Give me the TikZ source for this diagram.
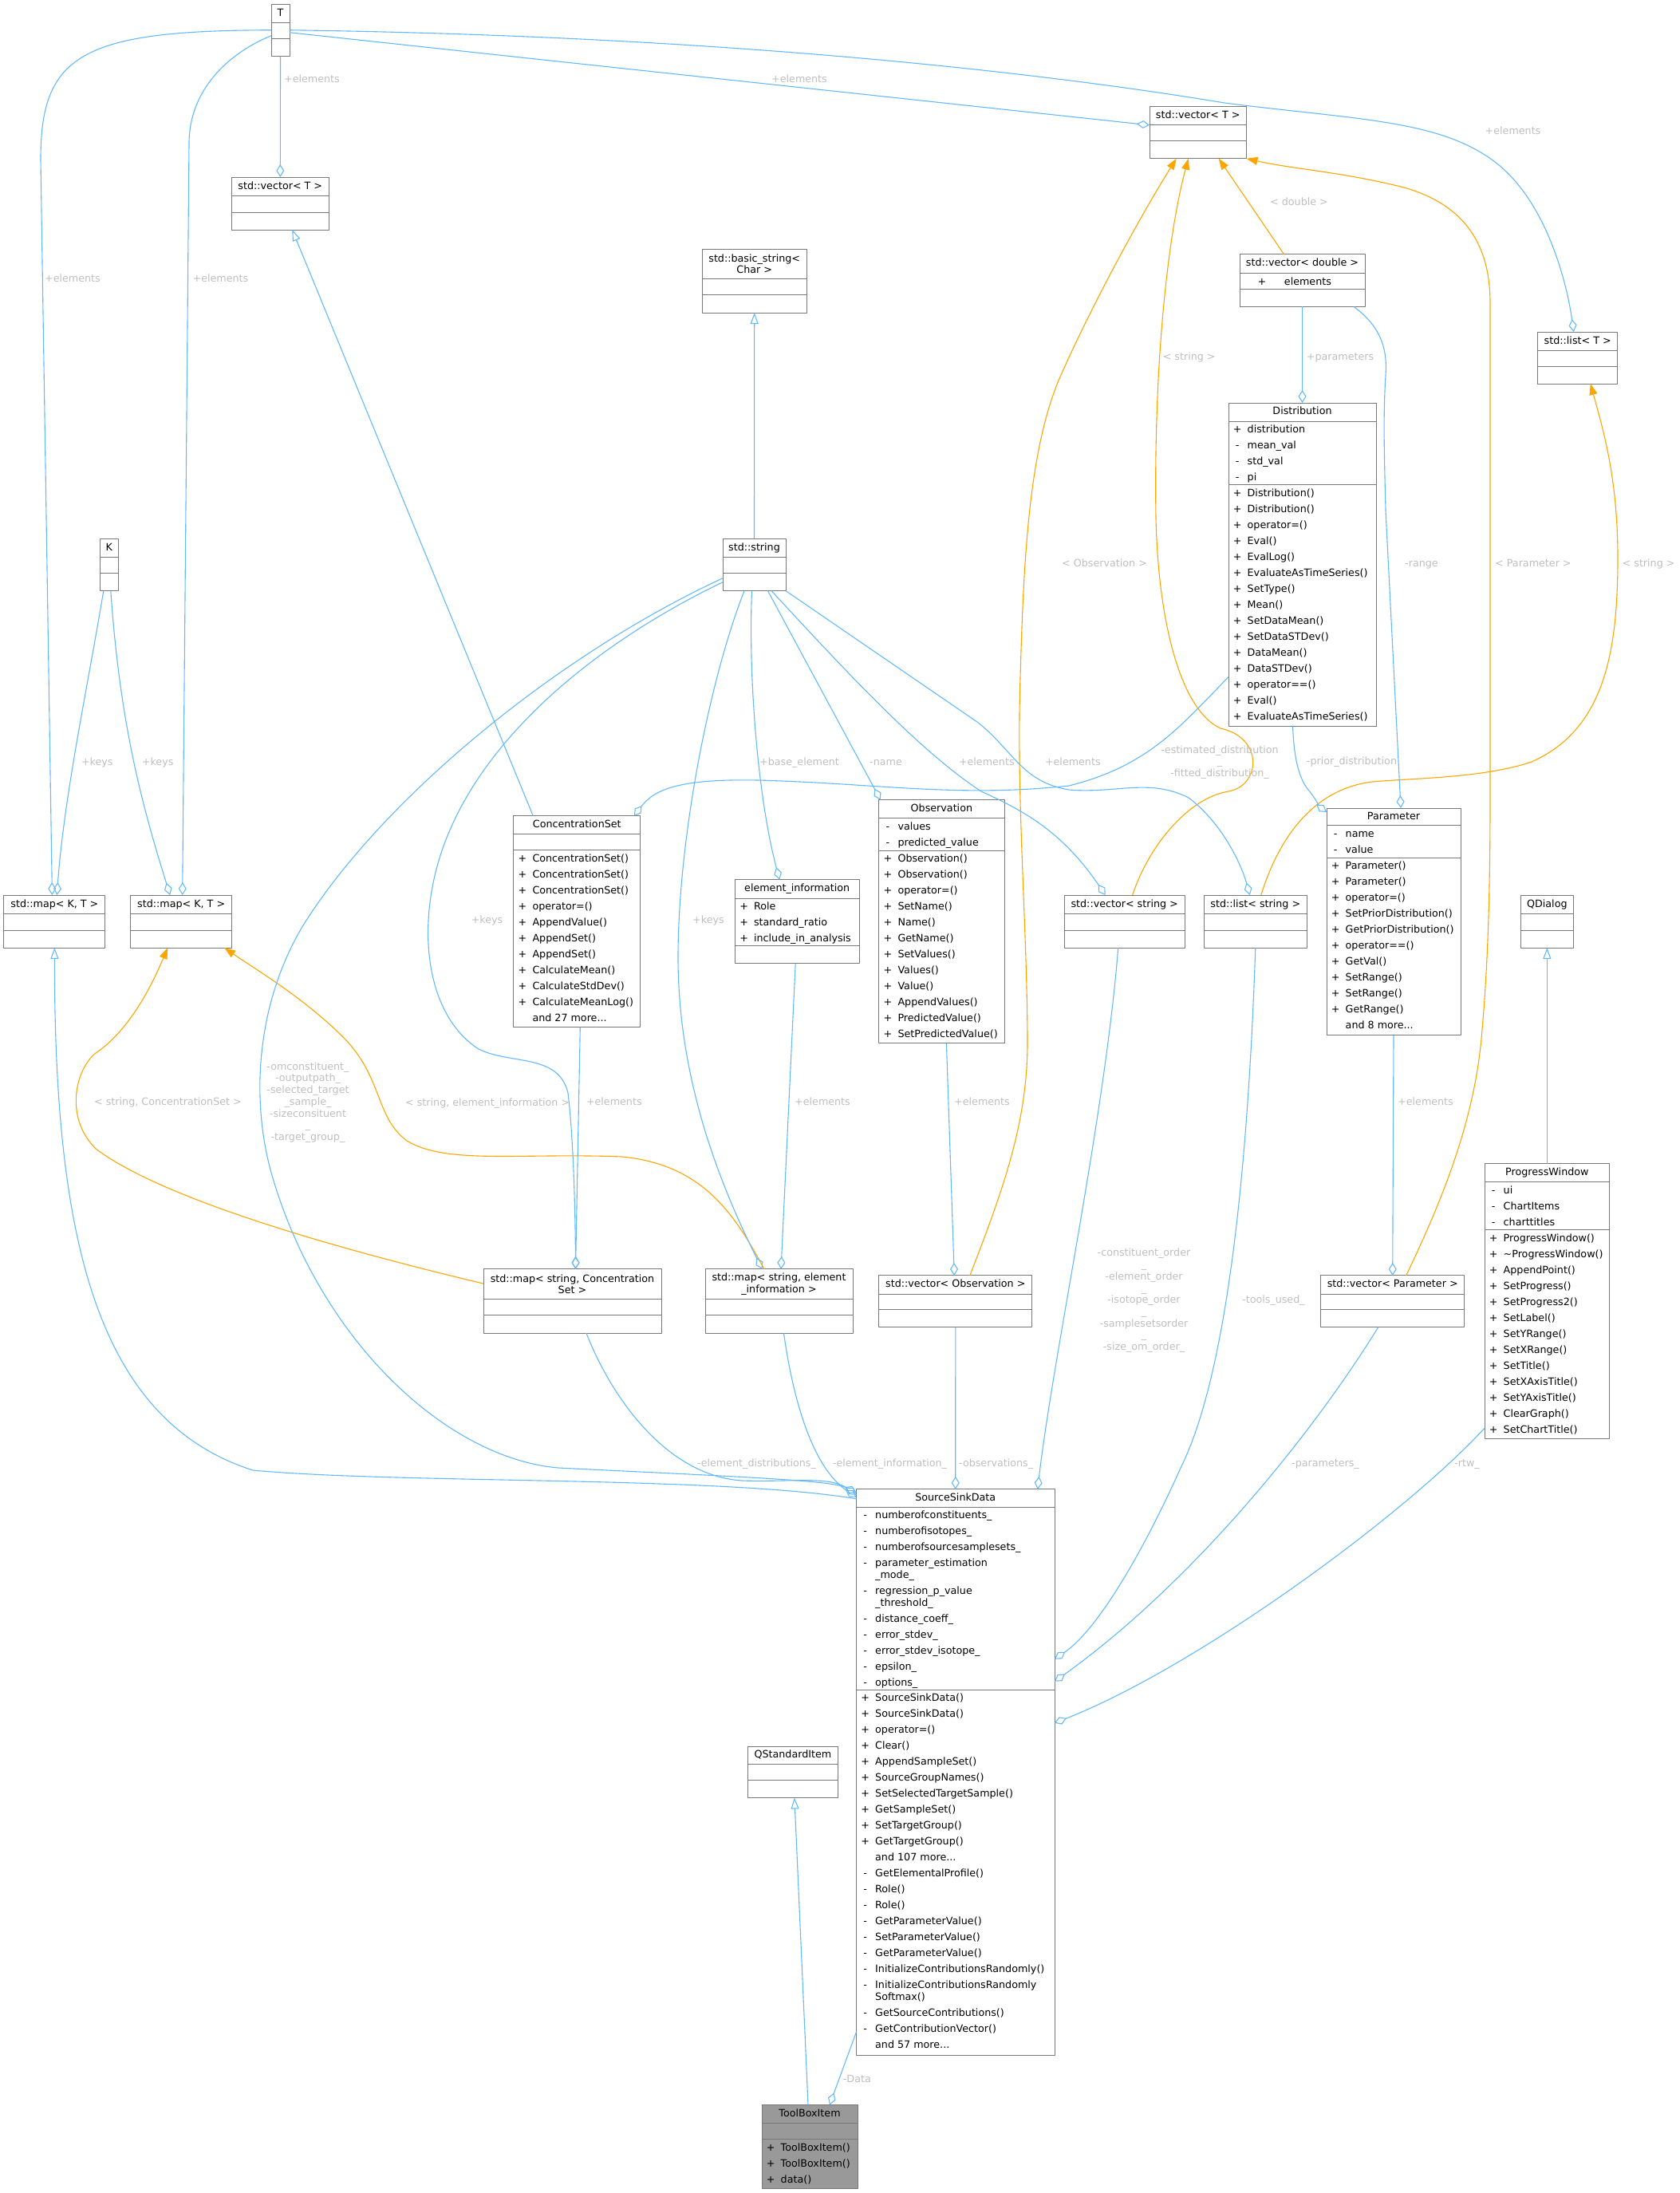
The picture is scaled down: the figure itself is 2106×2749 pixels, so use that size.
\documentclass[tikz,border=0pt]{standalone}
\usepackage{fontspec}
\setmainfont{DejaVu Sans}
\usetikzlibrary{arrows.meta}

\definecolor{edgeblue}{HTML}{63B8FF}
\definecolor{edgeorange}{HTML}{FFA500}
\definecolor{boxgray}{HTML}{787878}
\definecolor{labelgray}{HTML}{BEBEBE}
\definecolor{focusgray}{HTML}{999999}

\newcommand{\uml}{\fontsize{12.7}{20}\selectfont}
\newcommand{\vpub}{\makebox[13pt]{+}\hspace{6pt}}
\newcommand{\vpriv}{\makebox[13pt]{-}\hspace{6pt}}
\newcommand{\vnone}{\hspace{19pt}}
\newcommand{\mlist}[1]{\begin{tabular}{@{}l@{}}#1\end{tabular}}
% name, left, top, width, divider 1, divider 2, bottom
\newcommand{\umlclass}[8][]{%
  \node[classbox, #1, minimum width=#5pt, minimum height=#8pt-#4pt] (#2) at (#3,#4) {};
  \draw[divider] (#3,#6) -- ++(#5,0) (#3,#7) -- ++(#5,0);
}

\tikzset{
  classbox/.style={draw=boxgray, fill=white, line width=1pt, inner sep=0pt, outer sep=0pt, anchor=north west},
  divider/.style={draw=boxgray, line width=1pt},
  classtitle/.style={font=\uml, inner sep=0pt, text height=9.4pt, text depth=2.6pt},
  classtitletwo/.style={font=\uml, inner sep=0pt, align=center},
  members/.style={font=\uml, inner sep=0pt, anchor=north west},
  edgelabel/.style={font=\uml, text=labelgray, inner sep=0pt, anchor=west, text height=9.4pt, text depth=2.6pt},
  edgelabeltwo/.style={font=\uml, text=labelgray, inner sep=0pt, align=center},
  edgebase/.style={line width=1.1pt},
  agg/.style={edgebase, draw=edgeblue, -{Diamond[open, length=16pt, width=10pt]}},
  inherit/.style={edgebase, draw=edgeblue, -{Triangle[open, length=14pt, width=10pt]}},
  templ/.style={edgebase, draw=edgeorange, -{Triangle[length=14pt, width=10pt]}},
}

\begin{document}
\begin{tikzpicture}[x=1pt, y=-1pt, line join=round]
\useasboundingbox (0,0) rectangle (2106,2749);

% classes
\umlclass{tparam}{340}{5}{23}{28.6}{48.7}{70.5}
\node[classtitle] (tparam-t) at ([yshift=-11.8pt]tparam.north) {T};
\umlclass{kparam}{125.4}{675}{22.8}{698.7}{718.3}{740.6}
\node[classtitle] (kparam-t) at ([yshift=-11.8pt]kparam.north) {K};
\umlclass{vecTl}{290.6}{222}{121.4}{245.5}{266}{288}
\node[classtitle] (vecTl-t) at ([yshift=-11.7pt]vecTl.north) {std::vector< T >};
\umlclass{basicstr}{880.4}{312}{130.6}{349.5}{369.6}{392}
\node[classtitletwo] (basicstr-t) at ([yshift=-18.7pt]basicstr.north) {std::basic\_string<\\[-5.3pt]Char >};
\umlclass{vecT}{1441}{133}{121.5}{156.7}{176.8}{198.7}
\node[classtitle] (vecT-t) at ([yshift=-11.8pt]vecT.north) {std::vector< T >};
\umlclass{vecdbl}{1554}{318.75}{157}{342.4}{362.5}{384.4}
\node[classtitle] (vecdbl-t) at ([yshift=-11.8pt]vecdbl.north) {std::vector< double >};
\node[members, anchor=west] (vecdbl-a) at (1576.5,352.5) {+\hspace{22.6pt}elements};
\umlclass{listT}{1927.7}{416}{100}{439.7}{459}{481}
\node[classtitle] (listT-t) at ([yshift=-11.8pt]listT.north) {std::list< T >};

\umlclass{distrib}{1540}{505}{185}{528}{607.6}{910}
\node[classtitle] (distrib-t) at ([yshift=-11.5pt]distrib.north) {Distribution};
\node[members] (distrib-a) at (1544.5,528.5) {\mlist{\vpub distribution\\ \vpriv mean\_val\\ \vpriv std\_val\\ \vpriv pi}};
\node[members] (distrib-m) at (1544.5,608) {\mlist{\vpub Distribution()\\ \vpub Distribution()\\ \vpub operator=()\\ \vpub Eval()\\ \vpub EvalLog()\\ \vpub EvaluateAsTimeSeries()\\ \vpub SetType()\\ \vpub Mean()\\ \vpub SetDataMean()\\ \vpub SetDataSTDev()\\ \vpub DataMean()\\ \vpub DataSTDev()\\ \vpub operator==()\\ \vpub Eval()\\ \vpub EvaluateAsTimeSeries()}};

\umlclass{mapKTa}{4.9}{1122}{127}{1145.5}{1166}{1188}
\node[classtitle] (mapKTa-t) at ([yshift=-11.7pt]mapKTa.north) {std::map< K, T >};
\umlclass{mapKTb}{163.8}{1122}{126.8}{1145.5}{1166}{1188}
\node[classtitle] (mapKTb-t) at ([yshift=-11.7pt]mapKTb.north) {std::map< K, T >};
\umlclass{stdstr}{906}{675}{79}{698.7}{718.3}{740.6}
\node[classtitle] (stdstr-t) at ([yshift=-11.8pt]stdstr.north) {std::string};

\umlclass{concset}{643.8}{1022.8}{159}{1045.5}{1065.6}{1287.5}
\node[classtitle] (concset-t) at ([yshift=-11.4pt]concset.north) {ConcentrationSet};
\node[members] (concset-m) at (648.3,1066.1) {\mlist{\vpub ConcentrationSet()\\ \vpub ConcentrationSet()\\ \vpub ConcentrationSet()\\ \vpub operator=()\\ \vpub AppendValue()\\ \vpub AppendSet()\\ \vpub AppendSet()\\ \vpub CalculateMean()\\ \vpub CalculateStdDev()\\ \vpub CalculateMeanLog()\\ \vnone and 27 more...}};

\umlclass{eleminfo}{921.4}{1102.7}{155.6}{1126}{1185.7}{1207.6}
\node[classtitle] (eleminfo-t) at ([yshift=-11.6pt]eleminfo.north) {element\_information};
\node[members] (eleminfo-a) at (925.9,1126.5) {\mlist{\vpub Role\\ \vpub standard\_ratio\\ \vpub include\_in\_analysis}};

\umlclass{observ}{1101.8}{1002.7}{157.2}{1025.9}{1066}{1307.6}
\node[classtitle] (observ-t) at ([yshift=-11.6pt]observ.north) {Observation};
\node[members] (observ-a) at (1106.3,1026.4) {\mlist{\vpriv values\\ \vpriv predicted\_value}};
\node[members] (observ-m) at (1106.3,1066.5) {\mlist{\vpub Observation()\\ \vpub Observation()\\ \vpub operator=()\\ \vpub SetName()\\ \vpub Name()\\ \vpub GetName()\\ \vpub SetValues()\\ \vpub Values()\\ \vpub Value()\\ \vpub AppendValues()\\ \vpub PredictedValue()\\ \vpub SetPredictedValue()}};

\umlclass{vecstr}{1334.4}{1122}{150.6}{1145.5}{1166}{1188}
\node[classtitle] (vecstr-t) at ([yshift=-11.7pt]vecstr.north) {std::vector< string >};
\umlclass{liststr}{1509}{1122}{129.6}{1145.5}{1166}{1188}
\node[classtitle] (liststr-t) at ([yshift=-11.7pt]liststr.north) {std::list< string >};

\umlclass{param}{1663}{1013}{168}{1034.8}{1075}{1297.8}
\node[classtitle] (param-t) at ([yshift=-10.9pt]param.north) {Parameter};
\node[members] (param-a) at (1667.5,1035.3) {\mlist{\vpriv name\\ \vpriv value}};
\node[members] (param-m) at (1667.5,1075.5) {\mlist{\vpub Parameter()\\ \vpub Parameter()\\ \vpub operator=()\\ \vpub SetPriorDistribution()\\ \vpub GetPriorDistribution()\\ \vpub operator==()\\ \vpub GetVal()\\ \vpub SetRange()\\ \vpub SetRange()\\ \vpub GetRange()\\ \vnone and 8 more...}};

\umlclass{qdialog}{1906}{1122}{66.7}{1145.5}{1166}{1188}
\node[classtitle] (qdialog-t) at ([yshift=-11.7pt]qdialog.north) {QDialog};

\umlclass{mapcs}{606}{1590.9}{223}{1628.4}{1648.6}{1671.2}
\node[classtitletwo] (mapcs-t) at ([yshift=-18.7pt]mapcs.north) {std::map< string, Concentration\\[-5.3pt]Set >};
\umlclass{mapei}{884}{1590.9}{185}{1628.4}{1648.6}{1671.2}
\node[classtitletwo] (mapei-t) at ([yshift=-18.7pt]mapei.north) {std::map< string, element\\[-5.3pt]\_information >};
\umlclass{vecobs}{1101.8}{1598.9}{192}{1622.2}{1641.7}{1663.6}
\node[classtitle] (vecobs-t) at ([yshift=-11.6pt]vecobs.north) {std::vector< Observation >};
\umlclass{vecpar}{1655.7}{1598.9}{180}{1622.2}{1641.7}{1663.6}
\node[classtitle] (vecpar-t) at ([yshift=-11.6pt]vecpar.north) {std::vector< Parameter >};

\umlclass{progwin}{1861}{1458.8}{156.7}{1481.8}{1541.9}{1803.6}
\node[classtitle] (progwin-t) at ([yshift=-11.5pt]progwin.north) {ProgressWindow};
\node[members] (progwin-a) at (1865.5,1482.3) {\mlist{\vpriv ui\\ \vpriv ChartItems\\ \vpriv charttitles}};
\node[members] (progwin-m) at (1865.5,1542.4) {\mlist{\vpub ProgressWindow()\\ \vpub \textasciitilde ProgressWindow()\\ \vpub AppendPoint()\\ \vpub SetProgress()\\ \vpub SetProgress2()\\ \vpub SetLabel()\\ \vpub SetYRange()\\ \vpub SetXRange()\\ \vpub SetTitle()\\ \vpub SetXAxisTitle()\\ \vpub SetYAxisTitle()\\ \vpub ClearGraph()\\ \vpub SetChartTitle()}};

\umlclass{ssd}{1073.5}{1866.8}{248.5}{1889}{2118}{2576}
\node[classtitle] (ssd-t) at ([yshift=-11.1pt]ssd.north) {SourceSinkData};
\node[members] (ssd-a) at (1078,1889.5) {\mlist{\vpriv numberofconstituents\_\\ \vpriv numberofisotopes\_\\ \vpriv numberofsourcesamplesets\_\\ \vpriv parameter\_estimation\\[-5.3pt] \vnone\_mode\_\\ \vpriv regression\_p\_value\\[-5.3pt] \vnone\_threshold\_\\ \vpriv distance\_coeff\_\\ \vpriv error\_stdev\_\\ \vpriv error\_stdev\_isotope\_\\ \vpriv epsilon\_\\ \vpriv options\_}};
\node[members] (ssd-m) at (1078,2118.5) {\mlist{\vpub SourceSinkData()\\ \vpub SourceSinkData()\\ \vpub operator=()\\ \vpub Clear()\\ \vpub AppendSampleSet()\\ \vpub SourceGroupNames()\\ \vpub SetSelectedTargetSample()\\ \vpub GetSampleSet()\\ \vpub SetTargetGroup()\\ \vpub GetTargetGroup()\\ \vnone and 107 more...\\ \vpriv GetElementalProfile()\\ \vpriv Role()\\ \vpriv Role()\\ \vpriv GetParameterValue()\\ \vpriv SetParameterValue()\\ \vpriv GetParameterValue()\\ \vpriv InitializeContributionsRandomly()\\ \vpriv InitializeContributionsRandomly\\[-5.3pt] \vnone Softmax()\\ \vpriv GetSourceContributions()\\ \vpriv GetContributionVector()\\ \vnone and 57 more...}};

\umlclass{qsitem}{937.8}{2189}{112.2}{2211.3}{2231.7}{2253.5}
\node[classtitle] (qsitem-t) at ([yshift=-11.2pt]qsitem.north) {QStandardItem};
\umlclass[fill=focusgray]{toolbox}{955}{2638.5}{120}{2661.2}{2681.9}{2743}
\node[classtitle] (toolbox-t) at ([yshift=-11.4pt]toolbox.north) {ToolBoxItem};
\node[members] (toolbox-m) at (959.5,2682.4) {\mlist{\vpub ToolBoxItem()\\ \vpub ToolBoxItem()\\ \vpub data()}};

% template parameters
\draw[agg] (tparam.south) -- (vecTl.north);
\draw[agg] (tparam.west) .. controls (100,38) and (51,70) .. (51,200) -- ([xshift=-3pt]mapKTa.north);
\draw[agg] ([yshift=-7pt]tparam.west) .. controls (290,65) and (237,110) .. (237,180) -- ([xshift=1.5pt]mapKTb.north);
\draw[agg] ([yshift=-3pt]tparam.east) -- ([yshift=9pt]vecT.west);
\draw[agg] (tparam.east) .. controls (900,45) and (1300,90) .. (1535,129) .. controls (1700,150) and (1800,150) .. (1870,200) .. controls (1940,250) and (1965,360) .. ([xshift=-5pt]listT.north);
\draw[agg] ([xshift=-7pt]kparam.south) .. controls (110,860) and (80,1000) .. ([xshift=3pt]mapKTa.north);
\draw[agg] ([xshift=2pt]kparam.south) .. controls (150,900) and (175,1000) .. ([xshift=-14pt]mapKTb.north);

% inheritance
\draw[inherit] (stdstr.north) -- (basicstr.south);
\draw[inherit] ([xshift=-55pt]concset.north) -- ([xshift=15pt]vecTl.south);
\draw[inherit] (progwin.north) -- (qdialog.south);
\draw[inherit] ([xshift=-2pt]toolbox.north) -- ([xshift=2pt]qsitem.south);
\draw[inherit] ([yshift=-12pt]ssd.north west) .. controls (900,1850) and (500,1860) .. (317,1843) .. controls (120,1780) and (68,1550) .. (mapKTa.south);

% template instances
\draw[templ] ([xshift=-23pt]vecdbl.north) -- ([xshift=26pt]vecT.south);
\draw[templ] ([xshift=10pt]vecstr.north) .. controls (1440,1060) and (1490,1000) .. (1540,992) .. controls (1580,985) and (1585,925) .. (1530,913) .. controls (1480,890) and (1452,780) .. (1449,650) .. controls (1446,450) and (1465,290) .. ([xshift=-12pt]vecT.south);
\draw[templ] ([xshift=18pt]vecobs.north) .. controls (1262,1480) and (1289,1400) .. (1288,1300) .. controls (1287,1150) and (1274,1000) .. (1279,850) .. controls (1283,700) and (1290,560) .. (1330,470) .. controls (1370,380) and (1430,270) .. ([xshift=-27pt]vecT.south);
\draw[templ] ([xshift=17pt]vecpar.north) .. controls (1810,1500) and (1850,1400) .. (1858,1290) .. controls (1866,1200) and (1868,1100) .. (1868,1000) -- (1868,380) .. controls (1868,300) and (1830,255) .. (1760,235) .. controls (1680,215) and (1620,212) .. (vecT.south east);
\draw[templ] ([xshift=7pt]liststr.north) .. controls (1600,1060) and (1640,990) .. (1720,980) .. controls (1780,975) and (1860,975) .. (1920,955) .. controls (2010,915) and (2028,820) .. (2028,700) .. controls (2028,600) and (2010,540) .. ([xshift=16pt]listT.south);
\draw[templ] ([yshift=22pt]mapcs.west) .. controls (400,1560) and (200,1500) .. (120,1440) .. controls (80,1400) and (95,1340) .. (120,1320) .. controls (150,1300) and (180,1260) .. ([xshift=-17pt]mapKTb.south);
\draw[templ] ([xshift=-18.5pt]mapei.north) .. controls (920,1520) and (880,1460) .. (780,1450) .. controls (650,1445) and (560,1460) .. (510,1430) .. controls (470,1400) and (480,1350) .. (430,1300) .. controls (380,1250) and (320,1215) .. ([xshift=54pt]mapKTb.south);

% std::string members
\draw[agg] ([yshift=-17pt]stdstr.west) .. controls (700,820) and (480,1000) .. (380,1160) .. controls (320,1260) and (315,1380) .. (340,1470) .. controls (400,1680) and (560,1828) .. (700,1840) .. controls (900,1850) and (1040,1855) .. ([yshift=-4pt]ssd.north west);
\draw[agg] ([yshift=-22pt]stdstr.west) .. controls (780,790) and (620,900) .. (560,1050) .. controls (520,1150) and (530,1270) .. (600,1315) .. controls (640,1335) and (700,1320) .. (712,1370) .. controls (718,1420) and (721,1500) .. ([xshift=4pt]mapcs.north);
\draw[agg] ([xshift=-12.5pt]stdstr.south) .. controls (890,850) and (850,1050) .. (850,1200) .. controls (850,1350) and (900,1480) .. ([xshift=-21pt]mapei.north);
\draw[agg] ([xshift=-3pt]stdstr.south) .. controls (938,850) and (950,1000) .. ([xshift=-22pt]eleminfo.north);
\draw[agg] ([xshift=17pt]stdstr.south) -- ([xshift=2pt]observ.north west);
\draw[agg] ([xshift=21.5pt]stdstr.south) .. controls (1050,830) and (1150,940) .. (1230,992) .. controls (1280,1015) and (1330,1040) .. ([xshift=-24pt]vecstr.north);
\draw[agg] (stdstr.south east) -- (1225,905) .. controls (1270,940) and (1280,980) .. (1340,990) .. controls (1400,995) and (1440,975) .. (1490,1000) .. controls (1530,1030) and (1555,1080) .. ([xshift=-7pt]liststr.north);

% distribution and parameter
\draw[agg] (vecdbl.south) -- (distrib.north);
\draw[agg] ([xshift=64.5pt]vecdbl.south) .. controls (1725,405) and (1740,430) .. (1737,470) .. controls (1734,520) and (1735,560) .. (1737,640) -- ([xshift=9pt]param.north);
\draw[agg] ([xshift=-12pt]distrib.south) .. controls (1622,950) and (1628,975) .. (1640,990) .. controls (1650,1002) and (1655,1012) .. ([yshift=-5pt]param.north west);
\draw[agg] ([yshift=-141pt]distrib.west) .. controls (1480,910) and (1440,960) .. (1340,985) .. controls (1200,1000) and (1100,982) .. (950,978) .. controls (850,976) and (820,990) .. ([xshift=-8pt]concset.north east);

% element containers
\draw[agg] ([xshift=4pt]concset.south) -- ([xshift=4pt]mapcs.north);
\draw[agg] ([xshift=-2pt]eleminfo.south) -- ([xshift=2.5pt]mapei.north);
\draw[agg] ([xshift=6pt]observ.south) -- ([xshift=-1.5pt]vecobs.north);
\draw[agg] (param.south) -- (vecpar.north);

% into SourceSinkData
\draw[agg] ([xshift=17.5pt]mapcs.south) .. controls (770,1760) and (840,1850) .. (930,1856) .. controls (990,1858) and (1040,1850) .. ([yshift=-7pt]ssd.north west);
\draw[agg] ([xshift=6pt]mapei.south) .. controls (995,1760) and (1020,1840) .. ([yshift=-10pt]ssd.north west);
\draw[agg] (vecobs.south) -- (ssd.north);
\draw[agg] ([xshift=-8pt]vecstr.south) .. controls (1385,1400) and (1320,1700) .. ([xshift=103pt]ssd.north);
\draw[agg] (liststr.south) .. controls (1565,1450) and (1540,1720) .. (1480,1840) .. controls (1440,1930) and (1380,2040) .. ([yshift=-213pt]ssd.north east);
\draw[agg] ([xshift=-18pt]vecpar.south) .. controls (1650,1790) and (1500,1980) .. ([yshift=-241pt]ssd.north east);
\draw[agg] ([yshift=-159pt]progwin.west) .. controls (1760,1900) and (1500,2090) .. ([yshift=-293pt]ssd.north east);
\draw[agg] ([yshift=29pt]ssd.south west) -- ([xshift=25pt]toolbox.north);

% edge labels
\node[edgelabel] (lb-tv) at (356,100) {+elements};
\node[edgelabel] (lb-tma) at (56,350) {+elements};
\node[edgelabel] (lb-tmb) at (241.5,350) {+elements};
\node[edgelabel] (lb-tvr) at (967,100) {+elements};
\node[edgelabel] (lb-tl) at (1861.5,165) {+elements};
\node[edgelabel] (lb-dbl) at (1592,254) {< double >};
\node[edgelabel] (lb-vs) at (1457.6,447.8) {< string >};
\node[edgelabel] (lb-par) at (1637.7,447.8) {+parameters};
\node[edgelabel] (lb-kma) at (101.8,955.8) {+keys};
\node[edgelabel] (lb-kmb) at (177.7,955.8) {+keys};
\node[edgelabel] (lb-smc) at (590.6,1154.5) {+keys};
\node[edgelabel] (lb-sme) at (868,1154.5) {+keys};
\node[edgelabel] (lb-base) at (952,955.8) {+base\_element};
\node[edgelabel] (lb-name) at (1090,955.8) {-name};
\node[edgelabel] (lb-svs) at (1201.8,955.8) {+elements};
\node[edgelabel] (lb-sls) at (1309.8,955.8) {+elements};
\node[edgelabel] (lb-obs) at (1331,706.7) {< Observation >};
\node[edgelabel] (lb-range) at (1761,706.7) {-range};
\node[edgelabel] (lb-parm) at (1874,706.7) {< Parameter >};
\node[edgelabel] (lb-ls) at (2033.5,706.7) {< string >};
\node[edgelabeltwo] (lb-dist) at (1529,955.4) {-estimated\_distribution\\[-5.3pt]\_\\[-5.3pt]-fitted\_distribution\_};
\node[edgelabel] (lb-prior) at (1637.7,955.4) {-prior\_distribution};
\node[edgelabel] (lb-cse) at (734.8,1382) {+elements};
\node[edgelabel] (lb-eie) at (996,1382) {+elements};
\node[edgelabel] (lb-obe) at (1196,1382) {+elements};
\node[edgelabel] (lb-pae) at (1752,1382) {+elements};
\node[edgelabel] (lb-mcs) at (118,1382) {< string, ConcentrationSet >};
\node[edgelabel] (lb-mei) at (508,1383) {< string, element\_information >};
\node[edgelabeltwo] (lb-str) at (386,1382) {-omconstituent\_\\[-5.3pt]-outputpath\_\\[-5.3pt]-selected\_target\\[-5.3pt]\_sample\_\\[-5.3pt]-sizeconsituent\\[-5.3pt]\_\\[-5.3pt]-target\_group\_};
\node[edgelabeltwo] (lb-order) at (1434,1630.4) {-constituent\_order\\[-5.3pt]\_\\[-5.3pt]-element\_order\\[-5.3pt]\_\\[-5.3pt]-isotope\_order\\[-5.3pt]\_\\[-5.3pt]-samplesetsorder\\[-5.3pt]\_\\[-5.3pt]-size\_om\_order\_};
\node[edgelabel] (lb-tools) at (1557,1630) {-tools\_used\_};
\node[edgelabel] (lb-edist) at (874,1834.6) {-element\_distributions\_};
\node[edgelabel] (lb-einfo) at (1043.8,1834.6) {-element\_information\_};
\node[edgelabel] (lb-obsv) at (1202,1834.6) {-observations\_};
\node[edgelabel] (lb-pars) at (1619,1834.6) {-parameters\_};
\node[edgelabel] (lb-rtw) at (1823,1834.6) {-rtw\_};
\node[edgelabel] (lb-data) at (1056.7,2607) {-Data};
\end{tikzpicture}
\end{document}
